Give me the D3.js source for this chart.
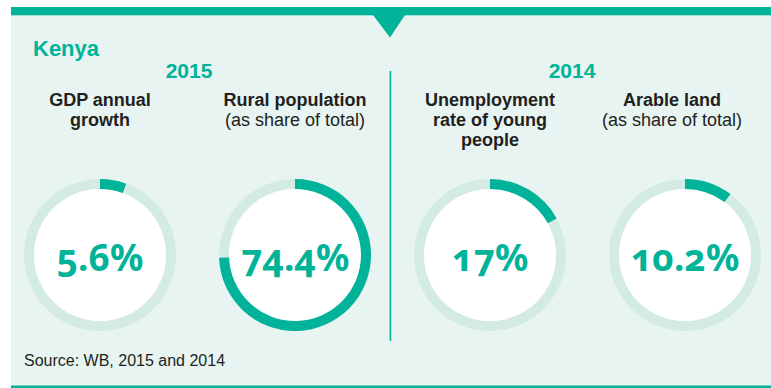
<!DOCTYPE html>
<html>
<head>
<meta charset="utf-8">
<script src="https://cdn.jsdelivr.net/npm/d3@7"></script>
<style>
  html, body { margin: 0; padding: 0; background: #ffffff; }
  svg { display: block; }
  .val { font-family: "Noto Sans", sans-serif; font-weight: 700; font-feature-settings: "onum" 1; font-variant-numeric: oldstyle-nums; }
  .lbl { font-family: "Liberation Sans", Arial, sans-serif; }
</style>
</head>
<body>
<script>
// ---- data ----
const country = "Kenya";
const categories = ["GDP annual growth", "Rural population", "Unemployment rate of young people", "Arable land"];
const values = [5.6, 74.4, 17, 10.2];
const valueLabels = ["5.6%", "74.4%", "17%", "10.2%"];
const titleBold = [["GDP annual", "growth"], ["Rural population"], ["Unemployment", "rate of young", "people"], ["Arable land"]];
const titleNormal = [[], ["(as share of total)"], [], ["(as share of total)"]];
const years = ["2015", "2014"];
const source = "Source: WB, 2015 and 2014";

// ---- style ----
const W = 771, H = 388;
const teal = "#00b399";
const panelBg = "#e7f4f1";
const track = "#d4ebe5";
const dark = "#231f20";

const svg = d3.select("body").append("svg").attr("width", W).attr("height", H);

// panel
svg.append("rect").attr("x", 11).attr("y", 15).attr("width", W - 11).attr("height", 371).attr("fill", panelBg);
svg.append("rect").attr("x", 11).attr("y", 7).attr("width", W - 11).attr("height", 8.3).attr("fill", teal);
svg.append("path").attr("d", "M373,15 L405,15 L390,37.5 Z").attr("fill", teal);
svg.append("rect").attr("x", 11).attr("y", 385.5).attr("width", W - 11).attr("height", 3).attr("fill", teal);
svg.append("rect").attr("x", 389.6).attr("y", 71).attr("width", 1.6).attr("height", 270).attr("fill", teal);

// title
svg.append("text").attr("class", "lbl").attr("x", 33).attr("y", 56)
  .attr("font-size", 22).attr("font-weight", 700).attr("fill", teal).text(country);

// year labels
const yearX = [189, 572];
svg.selectAll(".year").data(years).enter().append("text")
  .attr("class", "lbl year").attr("x", (d, i) => yearX[i]).attr("y", 78)
  .attr("text-anchor", "middle").attr("font-size", 21).attr("font-weight", 700)
  .attr("fill", teal).text(d => d);

// scales
const x = d3.scalePoint().domain(categories).range([100, 685]);
const angle = d3.scaleLinear().domain([0, 100]).range([0, 2 * Math.PI]);
const cy = 255, rOuter = 76, rInner = 66;
const arc = d3.arc().innerRadius(rInner).outerRadius(rOuter);
const titleDx = [0, 0, 0, -13];

const g = svg.selectAll(".donut").data(categories).enter().append("g")
  .attr("class", "donut").attr("transform", d => `translate(${x(d)},${cy})`);

g.append("path").attr("fill", track)
  .attr("d", () => arc({ startAngle: 0, endAngle: 2 * Math.PI }));
g.append("circle").attr("r", rInner).attr("fill", "#ffffff");
g.append("path").attr("fill", teal)
  .attr("d", (d, i) => arc({ startAngle: 0, endAngle: angle(values[i]) }));
g.append("text").attr("class", "val").attr("y", 16).attr("text-anchor", "middle")
  .attr("font-size", 37).attr("fill", teal).text((d, i) => valueLabels[i]);

// category titles
categories.forEach((c, i) => {
  const tx = x(c) + titleDx[i];
  const lines = titleBold[i].map(t => ({ t, b: true })).concat(titleNormal[i].map(t => ({ t, b: false })));
  lines.forEach((ln, j) => {
    svg.append("text").attr("class", "lbl").attr("x", tx).attr("y", 105.5 + j * 20.2)
      .attr("text-anchor", "middle").attr("font-size", 18)
      .attr("font-weight", ln.b ? 700 : 400).attr("fill", dark).text(ln.t);
  });
});

// source
svg.append("text").attr("class", "lbl").attr("x", 24).attr("y", 366)
  .attr("font-size", 16).attr("fill", dark).text(source);
</script>
</body>
</html>
